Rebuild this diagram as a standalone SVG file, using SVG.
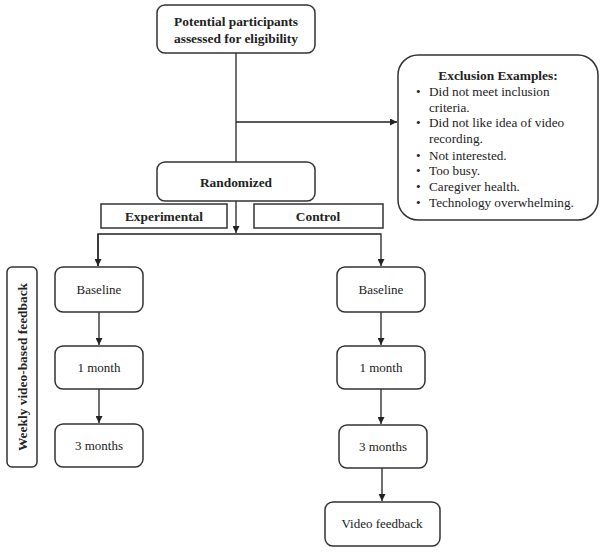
<svg xmlns="http://www.w3.org/2000/svg" width="604" height="552" viewBox="0 0 604 552">
<defs>
<marker id="ah" viewBox="0 0 10 10" refX="10" refY="5" markerWidth="7" markerHeight="7" markerUnits="userSpaceOnUse" orient="auto">
<path d="M0,0 L10,5 L0,10 z" fill="#222"/>
</marker>
<style>
.box{fill:#fff;stroke:#333;stroke-width:1.5}
.t{font-family:"Liberation Serif",serif;font-size:13px;fill:#222;text-anchor:middle}
.b{font-weight:bold;font-size:13.4px}
.l{font-family:"Liberation Serif",serif;font-size:13.2px;fill:#222}
.c{fill:none;stroke:#222;stroke-width:1.3}
</style>
</defs>
<rect width="604" height="552" fill="#fff"/>
<g id="connectors">
<path class="c" d="M236,53 V162"/>
<path class="c" d="M236,122 H397" marker-end="url(#ah)"/>
<path class="c" d="M236,201 V233" marker-end="url(#ah)"/>
<path class="c" d="M98,266 V234 H381 V266" marker-end="url(#ah)"/>
<path class="c" d="M98,234 V266" marker-end="url(#ah)"/>
<path class="c" d="M99,312 V345" marker-end="url(#ah)"/>
<path class="c" d="M99,389 V423" marker-end="url(#ah)"/>
<path class="c" d="M381,312 V345" marker-end="url(#ah)"/>
<path class="c" d="M381,389 V424" marker-end="url(#ah)"/>
<path class="c" d="M382,468 V501" marker-end="url(#ah)"/>
</g>
<g id="potential">
<rect class="box" x="157" y="5" width="158" height="48" rx="8"/>
<text class="t b" x="236" y="26">Potential participants</text>
<text class="t b" x="236" y="43">assessed for eligibility</text>
</g>
<g id="exclusion">
<rect class="box" x="398" y="55" width="200" height="165" rx="20"/>
<text class="t b" x="498" y="80">Exclusion Examples:</text>
<g class="l">
<text x="416" y="96">•</text><text x="429" y="96">Did not meet inclusion</text>
<text x="429" y="112">criteria.</text>
<text x="416" y="127">•</text><text x="429" y="127">Did not like idea of video</text>
<text x="429" y="143">recording.</text>
<text x="416" y="160">•</text><text x="429" y="160">Not interested.</text>
<text x="416" y="175">•</text><text x="429" y="175">Too busy.</text>
<text x="416" y="191">•</text><text x="429" y="191">Caregiver health.</text>
<text x="416" y="207">•</text><text x="429" y="207">Technology overwhelming.</text>
</g>
</g>
<g id="randomized">
<rect class="box" x="157" y="162" width="158" height="39" rx="8"/>
<text class="t b" x="236" y="187">Randomized</text>
</g>
<g id="experimental">
<rect class="box" x="101" y="204" width="126" height="24"/>
<text class="t b" x="164" y="221">Experimental</text>
</g>
<g id="control">
<rect class="box" x="254" y="204" width="129" height="24"/>
<text class="t b" x="318" y="221">Control</text>
</g>
<g id="weekly">
<rect class="box" x="7" y="267" width="30" height="200" rx="5"/>
<text class="t b" transform="translate(26.5,367) rotate(-90)">Weekly video-based feedback</text>
</g>
<g id="baseline-exp">
<rect class="box" x="55" y="267" width="88" height="45" rx="8"/>
<text class="t" x="99" y="294">Baseline</text>
</g>
<g id="month1-exp">
<rect class="box" x="55" y="346" width="88" height="43" rx="8"/>
<text class="t" x="99" y="372">1 month</text>
</g>
<g id="month3-exp">
<rect class="box" x="55" y="424" width="88" height="43" rx="8"/>
<text class="t" x="99" y="450">3 months</text>
</g>
<g id="baseline-ctl">
<rect class="box" x="337" y="267" width="88" height="45" rx="8"/>
<text class="t" x="381" y="294">Baseline</text>
</g>
<g id="month1-ctl">
<rect class="box" x="337" y="346" width="88" height="43" rx="8"/>
<text class="t" x="381" y="372">1 month</text>
</g>
<g id="month3-ctl">
<rect class="box" x="339" y="425" width="88" height="43" rx="8"/>
<text class="t" x="383" y="451">3 months</text>
</g>
<g id="video-feedback">
<rect class="box" x="325" y="502" width="115" height="44" rx="8"/>
<text class="t" x="382" y="528">Video feedback</text>
</g>
</svg>
